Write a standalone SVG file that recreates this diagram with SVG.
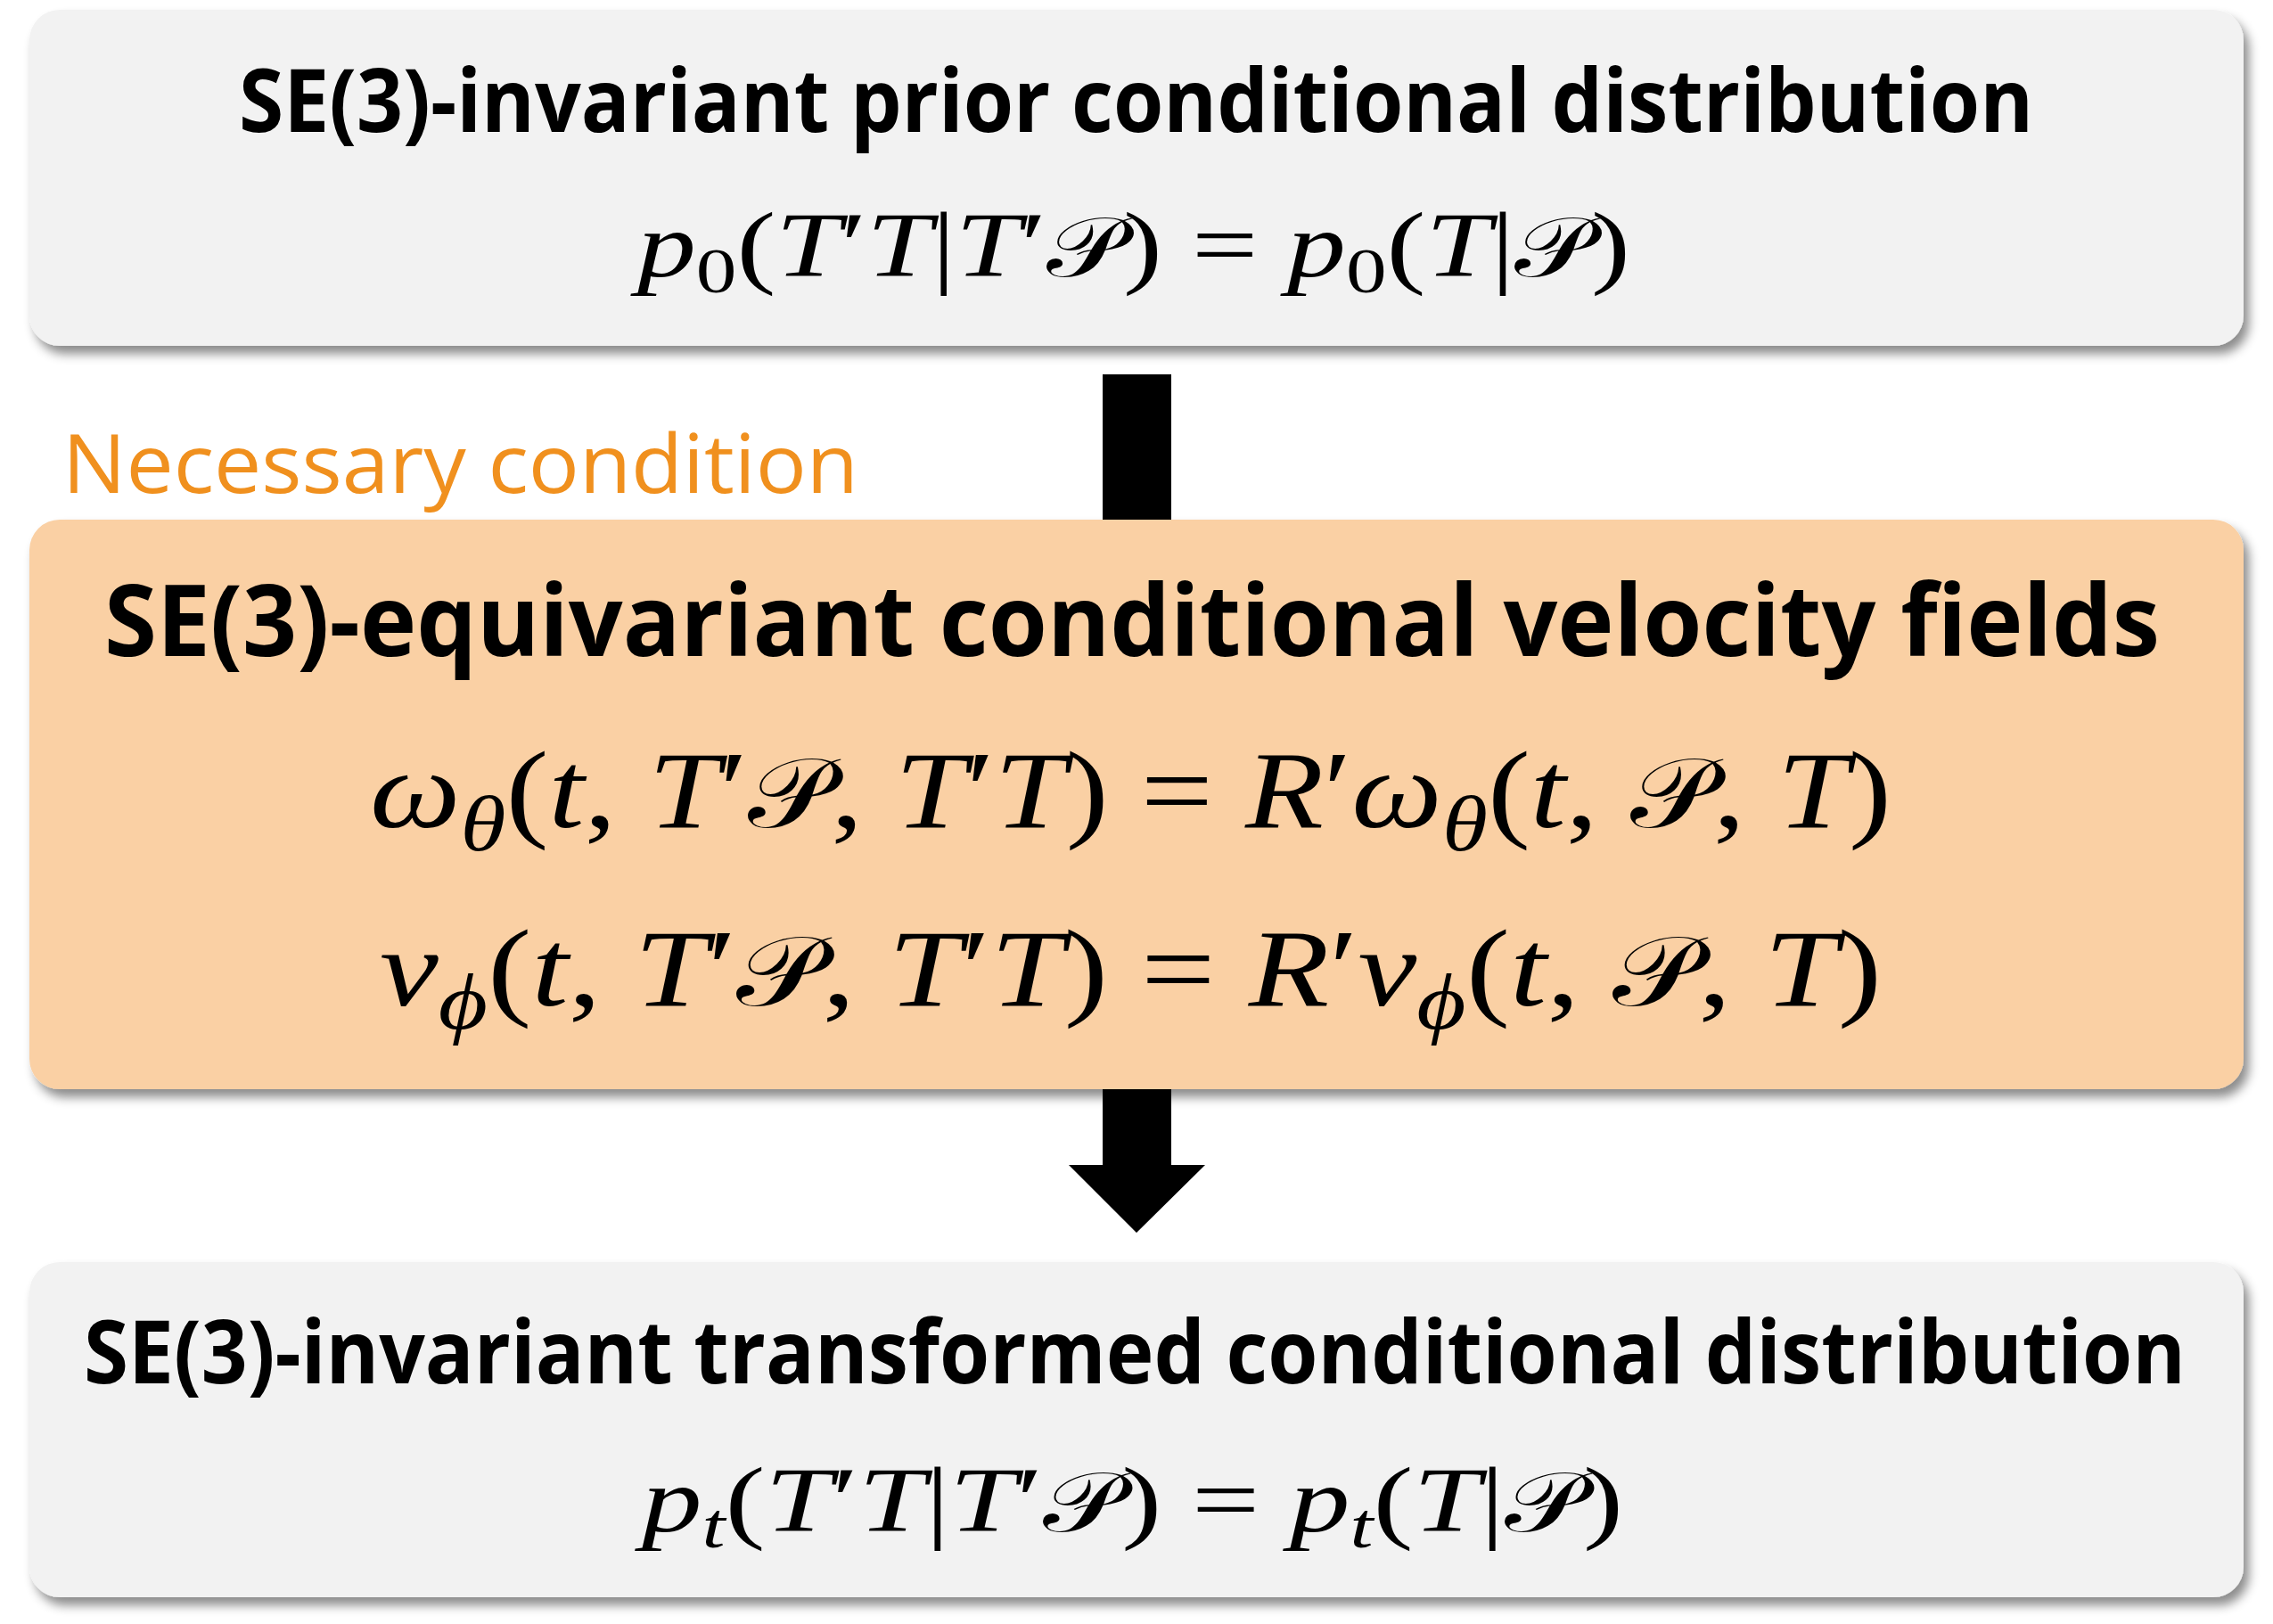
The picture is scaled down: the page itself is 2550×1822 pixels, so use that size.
<svg xmlns="http://www.w3.org/2000/svg" width="2550" height="1822" viewBox="0 0 2550 1822">
  <style>
    .title { font-family: "Open Sans", "Noto Sans", "Liberation Sans", sans-serif; font-weight: 700; fill: #000; }
    .note { font-family: "Open Sans", "Noto Sans", "Liberation Sans", sans-serif; font-weight: 400; fill: #F0901E; }
    .math { font-family: "Liberation Serif", "DejaVu Serif", serif; font-style: normal; fill: #000; }
    .it { font-style: italic; }
    .scr { font-family: "DejaVu Sans", "Noto Sans", "Liberation Serif", serif; font-style: normal; font-size: 0.9em; }
  </style>
  <defs>
    <filter id="shadow" x="-5%" y="-10%" width="110%" height="125%">
      <feDropShadow dx="6" dy="9" stdDeviation="6" flood-color="#000" flood-opacity="0.45"/>
    </filter>
  </defs>

  <rect width="2550" height="1822" fill="#FFFFFF"/>

  <g id="connectors">
    <rect id="arrow1" x="1237" y="420" width="77" height="180" fill="#000"/>
    <polygon id="arrow2" points="1237,1215 1314,1215 1314,1307 1352,1307 1275,1383 1199,1307 1237,1307" fill="#000"/>
  </g>

  <g id="node-prior">
    <rect x="33" y="11" width="2484" height="377" rx="34" ry="34" fill="#F2F2F2" filter="url(#shadow)"/>
    <text class="title" x="268" y="148" font-size="98" textLength="2013" lengthAdjust="spacingAndGlyphs">SE(3)-invariant prior conditional distribution</text>
    <text class="math" x="715" y="310" font-size="104" textLength="1114" lengthAdjust="spacingAndGlyphs"><tspan class="it">p</tspan><tspan font-size="72" dy="18">0</tspan><tspan dy="-18">(</tspan><tspan class="it">T</tspan>′<tspan class="it">T</tspan>|<tspan class="it">T</tspan>′<tspan class="scr">𝒫</tspan>) = <tspan class="it">p</tspan><tspan font-size="72" dy="18">0</tspan><tspan dy="-18">(</tspan><tspan class="it">T</tspan>|<tspan class="scr">𝒫</tspan>)</text>
  </g>

  <g id="label-necessary">
    <text class="note" x="70" y="553" font-size="92" textLength="893" lengthAdjust="spacingAndGlyphs">Necessary condition</text>
  </g>

  <g id="node-velocity">
    <rect x="33" y="583" width="2484" height="639" rx="34" ry="34" fill="#FAD0A4" filter="url(#shadow)"/>
    <text class="title" x="117" y="736" font-size="111" textLength="2306" lengthAdjust="spacingAndGlyphs">SE(3)-equivariant conditional velocity fields</text>
    <text class="math" x="415" y="928" font-size="122" textLength="1707" lengthAdjust="spacingAndGlyphs"><tspan class="it">ω</tspan><tspan class="it" font-size="88" dy="26">θ</tspan><tspan dy="-26">(</tspan><tspan class="it">t</tspan>, <tspan class="it">T</tspan>′<tspan class="scr">𝒫</tspan>, <tspan class="it">T</tspan>′<tspan class="it">T</tspan>) = <tspan class="it">R</tspan>′<tspan class="it">ω</tspan><tspan class="it" font-size="88" dy="26">θ</tspan><tspan dy="-26">(</tspan><tspan class="it">t</tspan>, <tspan class="scr">𝒫</tspan>, <tspan class="it">T</tspan>)</text>
    <text class="math" x="426" y="1128" font-size="122" textLength="1685" lengthAdjust="spacingAndGlyphs"><tspan class="it">v</tspan><tspan class="it" font-size="88" dy="26">ϕ</tspan><tspan dy="-26">(</tspan><tspan class="it">t</tspan>, <tspan class="it">T</tspan>′<tspan class="scr">𝒫</tspan>, <tspan class="it">T</tspan>′<tspan class="it">T</tspan>) = <tspan class="it">R</tspan>′<tspan class="it">v</tspan><tspan class="it" font-size="88" dy="26">ϕ</tspan><tspan dy="-26">(</tspan><tspan class="it">t</tspan>, <tspan class="scr">𝒫</tspan>, <tspan class="it">T</tspan>)</text>
  </g>

  <g id="node-transformed">
    <rect x="33" y="1416" width="2484" height="376" rx="34" ry="34" fill="#F2F2F2" filter="url(#shadow)"/>
    <text class="title" x="94" y="1552" font-size="98" textLength="2358" lengthAdjust="spacingAndGlyphs">SE(3)-invariant transformed conditional distribution</text>
    <text class="math" x="720" y="1718" font-size="104" textLength="1101" lengthAdjust="spacingAndGlyphs"><tspan class="it">p</tspan><tspan class="it" font-size="72" dy="18">t</tspan><tspan dy="-18">(</tspan><tspan class="it">T</tspan>′<tspan class="it">T</tspan>|<tspan class="it">T</tspan>′<tspan class="scr">𝒫</tspan>) = <tspan class="it">p</tspan><tspan class="it" font-size="72" dy="18">t</tspan><tspan dy="-18">(</tspan><tspan class="it">T</tspan>|<tspan class="scr">𝒫</tspan>)</text>
  </g>
</svg>
